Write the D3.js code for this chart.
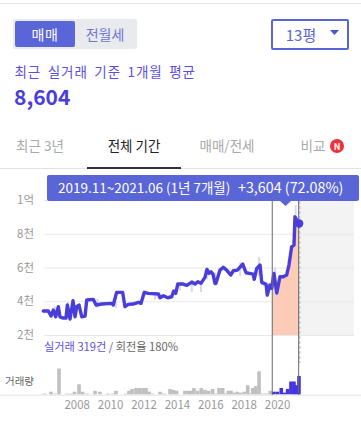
<!DOCTYPE html>
<html><head><meta charset="utf-8">
<script src="https://cdn.jsdelivr.net/npm/d3@7/dist/d3.min.js"></script>
<style>
html,body{margin:0;padding:0;background:#fff;overflow:hidden}
svg{display:block}
text{font-family:"Noto Sans CJK KR","Noto Sans",sans-serif}
</style></head><body>
<svg id="c" width="361" height="426"></svg>
<script>
const priceYears=[2006.21,2006.51,2006.67,2006.81,2006.95,2007.11,2007.21,2007.37,2007.57,2007.65,2007.81,2007.99,2008.11,2008.21,2008.35,2008.51,2008.71,2008.81,2009.20,2009.37,2009.71,2010.31,2010.40,2010.60,2010.96,2011.10,2011.30,2011.58,2011.90,2012.06,2012.26,2012.50,2013.10,2013.20,2013.40,2013.66,2013.90,2014.02,2014.14,2014.26,2014.59,2014.80,2015.10,2015.29,2015.46,2015.65,2015.89,2016.01,2016.13,2016.25,2016.37,2016.49,2016.55,2016.79,2016.99,2017.19,2017.43,2017.59,2017.83,2018.15,2018.35,2018.78,2018.84,2018.99,2019.19,2019.29,2019.55,2019.62,2019.78,2019.89,2019.92,2020.02,2020.19,2020.38,2020.58,2020.78,2020.92,2021.08,2021.22,2021.28,2021.50];
const priceValues=[3421,3421,3125,3480,3083,3675,3066,3006,3006,3776,2947,4031,3083,3675,3776,3083,3125,4072,4113,3776,3835,3877,3776,4528,4528,3675,3817,3835,3936,3877,4528,4469,4427,4208,4327,4208,4267,4605,4469,5019,5019,4942,5138,5019,5155,5061,5416,5889,5653,5747,5611,5061,5061,5848,6008,5848,5552,5807,5848,6203,5688,5611,5297,5949,6144,5120,5001,4368,4960,4765,5000,5653,4486,5451,5451,5552,6144,7227,7328,9003,8604];
const spikeYears=[2006.9,2007.7,2009.45,2010.55,2012.9,2014.39,2015.1,2015.65,2016.0,2016.5,2018.0,2019.13,2020.08,2021.32];
const spikeLow=[3000,2950,3600,3600,4100,4664,4546,4546,5300,4900,5500,5500,4300,8300];
const spikeHigh=[3700,3950,4150,4000,4400,5050,5150,5100,6000,5700,6300,6635,6000,9696];
const volumeYears=[2006.28,2006.67,2006.91,2007.15,2007.63,2007.87,2008.08,2008.35,2008.56,2008.83,2009.31,2009.60,2010.08,2010.38,2010.56,2011.16,2011.34,2011.52,2011.76,2011.97,2012.18,2012.36,2012.54,2012.72,2013.20,2013.44,2013.80,2013.99,2014.19,2014.69,2014.90,2015.05,2015.23,2015.45,2015.67,2015.89,2016.11,2016.35,2016.55,2016.73,2016.95,2017.13,2017.29,2017.45,2017.63,2017.81,2017.99,2018.23,2018.45,2018.59,2018.75,2018.93,2019.13,2019.37,2019.58,2019.80,2020.02,2020.23,2020.46,2020.65,2020.84,2021.04,2021.22,2021.36,2021.52];
const volumeCounts=[1,3,1,28,1,1,3,11,3,1,4,3,1,1,4,1,4,6,7,7,7,7,3,1,3,1,6,5,4,4,4,4,7,4,7,5,4,6,1,7,7,1,4,4,2,3,2,3,10,1,7,9,25,1,1,4,3,3,7,2,6,14,14,10,20];
const yTicks=[2000,4000,6000,8000,10000];
const yTickLabels=["2천","4천","6천","8천","1억"];
const xTicks=[2008,2010,2012,2014,2016,2018,2020];
const rangeStart=2019.92, rangeEnd=2021.5;
const tabLabels=["최근 3년","전체 기간","매매/전세","비교"];

const svg=d3.select("#c");
const x=d3.scaleLinear().domain([2006,2022]).range([39.8,307]);
const y=d3.scaleLinear().domain([2000,10000]).range([335,200]);
const v=d3.scaleLinear().domain([0,28]).range([394.5,368.5]);
const price=priceYears.map((t,i)=>({t,p:priceValues[i]}));
const blue="#4a3edb", btn="#5a65d8";

// header
svg.append("rect").attr("x",0).attr("y",3).attr("width",361).attr("height",1).attr("fill","#e4e4e4");
svg.append("rect").attr("x",13).attr("y",19).attr("width",124).attr("height",30).attr("rx",2).attr("fill","#e9eaee");
svg.append("rect").attr("x",15).attr("y",21).attr("width",60).attr("height",26).attr("rx",2).attr("fill",btn);
svg.append("text").attr("x",45).attr("y",40).attr("text-anchor","middle").attr("fill","#fff").attr("font-size",14).attr("letter-spacing",0.5).text("매매");
svg.append("text").attr("x",105).attr("y",40).attr("text-anchor","middle").attr("fill","#6c75d6").attr("font-size",14).text("전월세");
svg.append("rect").attr("x",272).attr("y",20).attr("width",76).attr("height",29).attr("rx",1).attr("fill","#fff").attr("stroke",btn).attr("stroke-width",2);
svg.append("text").attr("x",301).attr("y",41).attr("text-anchor","middle").attr("fill","#5a65d8").attr("font-size",15).text("13평");
svg.append("path").attr("d",d3.line()([[330,30],[339,30],[334.5,35]])+"Z").attr("fill","#4a55d0");
svg.append("text").attr("x",14.5).attr("y",77).attr("fill","#5a50e0").attr("font-size",13.5).attr("letter-spacing",0.95).attr("word-spacing",2.5).text("최근 실거래 기준 1개월 평균");
svg.append("text").attr("x",14).attr("y",105).attr("fill",blue).attr("font-size",21).attr("font-weight",700).attr("font-family","'Noto Sans',sans-serif").text("8,604");

// tabs
const tabX=[40,134,227,313], tabFill=["#aaa","#222","#aaa","#aaa"];
svg.selectAll("text.tab").data(tabLabels).join("text").attr("class","tab")
  .attr("x",(d,i)=>tabX[i]).attr("y",151).attr("text-anchor","middle").attr("font-size",13.5)
  .attr("fill",(d,i)=>tabFill[i]).text(d=>d);
svg.append("circle").attr("cx",337).attr("cy",146).attr("r",7).attr("fill","#f2303a");
svg.append("text").attr("x",337).attr("y",149.5).attr("text-anchor","middle").attr("font-size",9).attr("font-weight",700).attr("fill","#fff").text("N");
svg.append("rect").attr("x",0).attr("y",168).attr("width",361).attr("height",1).attr("fill","#e2e2e2");
svg.append("rect").attr("x",87).attr("y",167).attr("width",94).attr("height",2).attr("fill","#333");

// future shade
svg.append("rect").attr("x",x(rangeEnd)).attr("y",y(10000)).attr("width",354-x(rangeEnd)).attr("height",y(2000)-y(10000)).attr("fill","#f3f3f3");

// y axis with grid
const yAxis=d3.axisLeft(y).tickValues(yTicks).tickSize(0).tickPadding(10)
  .tickFormat(d=>yTickLabels[yTicks.indexOf(d)]);
const gy=svg.append("g").attr("transform","translate(44,0)").call(yAxis);
gy.select(".domain").remove();
gy.selectAll("line").attr("x2",310).attr("stroke","#e8e8e8").attr("stroke-width",1);
gy.selectAll("text").attr("font-size",11.5).attr("fill","#999").attr("font-family","'Noto Sans CJK KR'");

// selected area
const sel=price.filter(d=>d.t>=rangeStart&&d.t<=rangeEnd);
svg.append("path").datum(sel).attr("fill","#fdccb9")
  .attr("d",d3.area().x(d=>x(d.t)).y0(y(2000)).y1(d=>y(d.p)));

// faint raw spikes
svg.selectAll("line.sp").data(spikeYears).join("line").attr("class","sp")
  .attr("x1",d=>x(d)).attr("x2",d=>x(d))
  .attr("y1",(d,i)=>y(spikeLow[i])).attr("y2",(d,i)=>y(spikeHigh[i]))
  .attr("stroke","#d9d6f6").attr("stroke-width",2);

// volume
svg.selectAll("rect.vol").data(volumeYears).join("rect").attr("class","vol")
  .attr("x",d=>x(d)-1.8).attr("width",3.6)
  .attr("y",(d,i)=>v(volumeCounts[i])).attr("height",(d,i)=>v(0)-v(volumeCounts[i]))
  .attr("fill",d=>d>=rangeStart?"#4436dc":"#c0c0c0");

// x axis
svg.append("rect").attr("x",0).attr("y",394.5).attr("width",361).attr("height",1.5).attr("fill","#ececec");
const xAxis=d3.axisBottom(x).tickValues(xTicks).tickSize(0).tickPadding(0).tickFormat(d3.format("d"));
const gx=svg.append("g").attr("transform","translate(3.5,401)").call(xAxis);
gx.select(".domain").remove();
gx.selectAll("text").attr("font-size",11.5).attr("fill","#999").attr("font-family","'Noto Sans',sans-serif");

// price line
svg.append("path").datum(price).attr("fill","none").attr("stroke",blue).attr("stroke-width",3.4)
  .attr("stroke-linejoin","round").attr("stroke-linecap","round")
  .attr("d",d3.line().x(d=>x(d.t)).y(d=>y(d.p)));

// range markers
const bandTop=201;
svg.append("line").attr("x1",x(rangeEnd)+1).attr("x2",x(rangeEnd)+1).attr("y1",bandTop).attr("y2",363)
  .attr("stroke","#c9c9c9").attr("stroke-width",1.5).attr("stroke-dasharray","3 2");
[rangeStart,rangeEnd].forEach(t=>{
  svg.append("line").attr("x1",x(t)).attr("x2",x(t)).attr("y1",bandTop).attr("y2",395)
    .attr("stroke","#6b6b6b").attr("stroke-width",1);
});
svg.append("circle").attr("cx",x(rangeEnd)+0.5).attr("cy",y(8604)).attr("r",4.2).attr("fill",blue);

// tooltip
svg.append("rect").attr("x",47).attr("y",175).attr("width",312).attr("height",26).attr("rx",2).attr("fill",btn);
svg.append("path").attr("d",d3.line()([[280,201],[291,201],[285.5,206]])+"Z").attr("fill",btn);
const tipFont="Lato,'Noto Sans CJK KR',sans-serif";
svg.append("text").attr("x",58).attr("y",193).attr("fill","#fff").attr("font-size",13.5).attr("font-family",tipFont)
  .text("2019.11~2021.06 (1년 7개월)");
svg.append("text").attr("x",238).attr("y",193).attr("fill","#fff").attr("font-size",14.3).attr("font-family",tipFont)
  .text("+3,604 (72.08%)");

// captions
const cap=svg.append("text").attr("x",44).attr("y",351).attr("font-size",11.2);
cap.append("tspan").attr("fill","#5a50e0").text("실거래 319건");
cap.append("tspan").attr("fill","#666").text(" / 회전율 180%");
svg.append("text").attr("x",34).attr("y",385).attr("text-anchor","end").attr("font-size",10.5).attr("fill","#666").text("거래량");
</script></body></html>
